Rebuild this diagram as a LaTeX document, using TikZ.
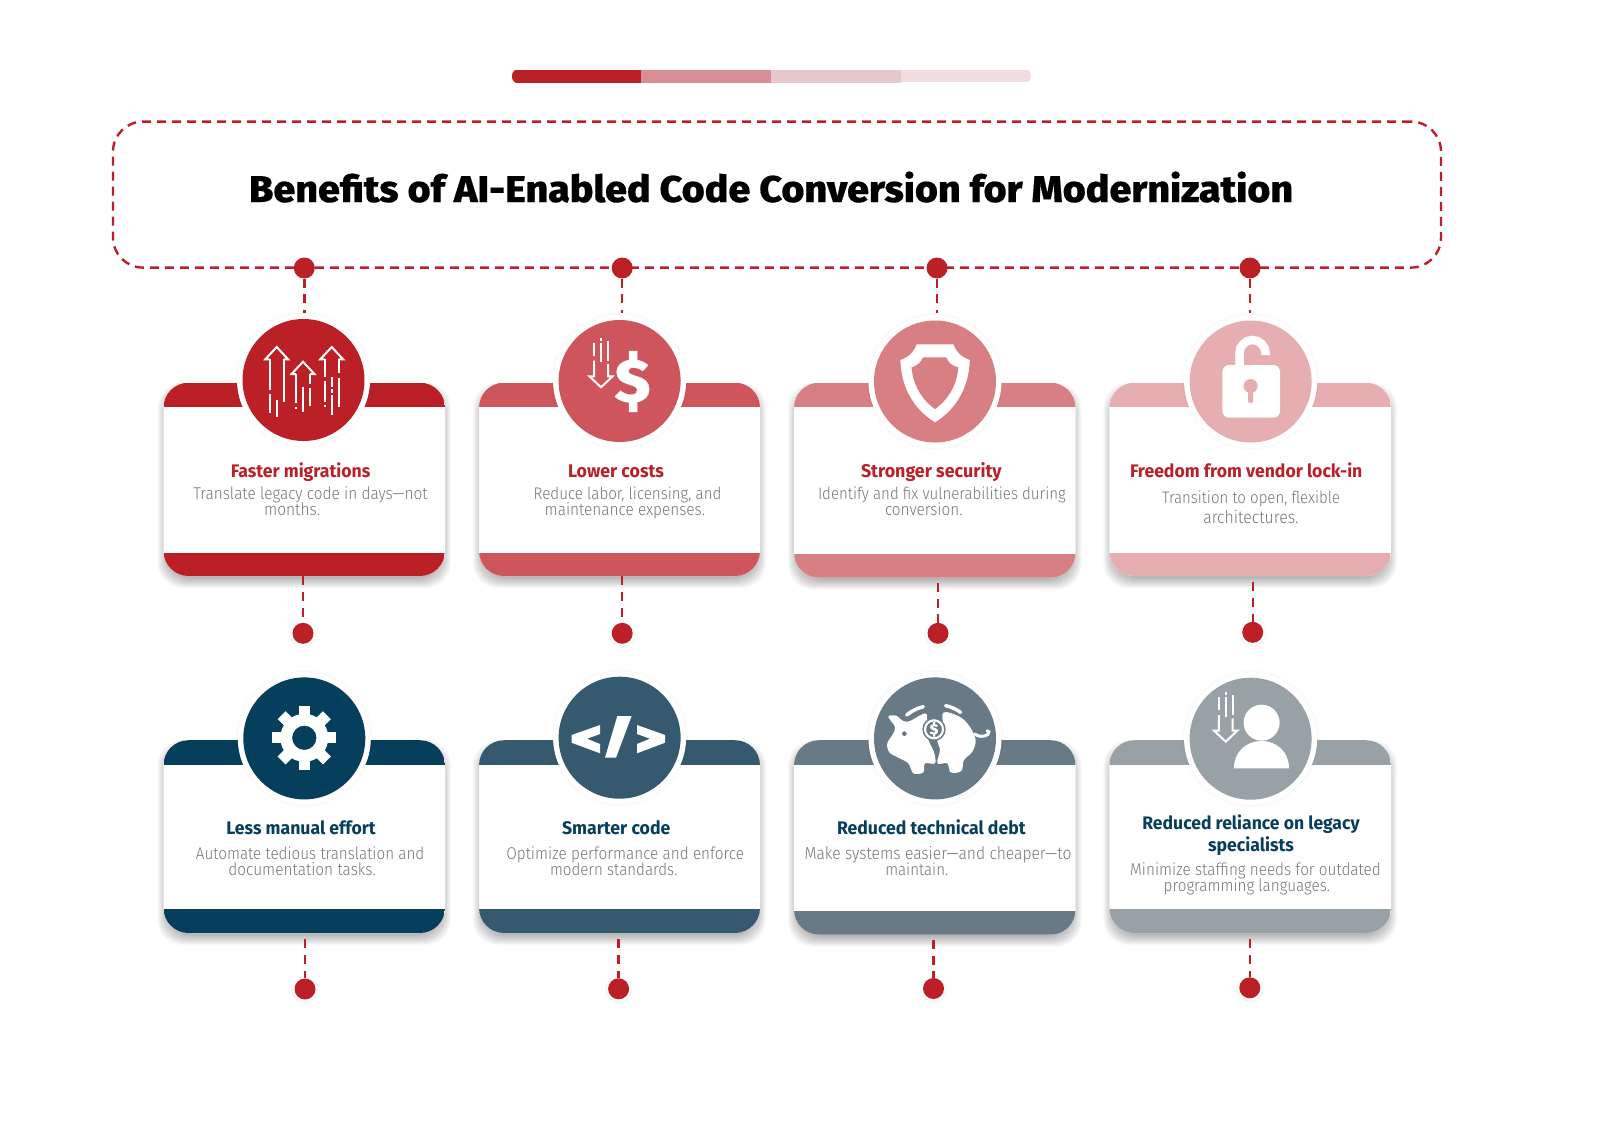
\documentclass[tikz,border=0pt]{standalone}
\usepackage{fontspec}
\usepackage{graphicx}
\setmainfont{Fira Sans}
\newfontfamily\titlef[FakeStretch=1.06,FakeBold=0.4]{Fira Sans ExtraBold}
\newfontfamily\headf[FakeStretch=0.97]{Fira Sans Bold}
\newfontfamily\bodyf[FakeStretch=0.9]{Fira Sans Light}
\definecolor{cA}{HTML}{BB2027}
\definecolor{cB}{HTML}{CE555B}
\definecolor{cC}{HTML}{D87F83}
\definecolor{cD}{HTML}{E6AEB0}
\definecolor{cE}{HTML}{063F5C}
\definecolor{cF}{HTML}{355A6F}
\definecolor{cG}{HTML}{687A85}
\definecolor{cH}{HTML}{98A1A6}
\definecolor{barB}{HTML}{D98E96}
\definecolor{barC}{HTML}{E7C8CC}
\definecolor{barD}{HTML}{F3DCE0}
\definecolor{bodygray}{HTML}{777777}
\def\px{0.75pt}
\tikzset{
  dotn/.style={circle,fill=cA,inner sep=0pt,minimum size=21*\px},
  conn/.style={draw=cA,line width=2.4*\px,dash pattern=on 6.75pt off 5pt},
  cardnode/.style={fill=white,inner sep=0pt,rounded corners=18.75pt},
  ringnode/.style={circle,fill=white,inner sep=0pt,minimum size=133*\px},
  discnode/.style={circle,inner sep=0pt,minimum size=122*\px},
  ico/.style={draw=white,line width=2*\px},
  txtn/.style={anchor=base,inner sep=0pt,outer sep=0pt},
}
% name, x1, x2, y1, y2, band end, band start, colour
\newcommand\cardbox[8]{%
  \foreach \s in {-5,-4,...,6}{%
    \fill[black,opacity=.027,rounded corners=18.75pt] ({#2-\s},{#4+6-\s}) rectangle ({#3+\s},{#5+6+\s});}
  \node[cardnode,minimum width={(#3-#2)*\px},minimum height={(#5-#4)*\px}] (#1) at ({(#2+#3)/2},{(#4+#5)/2}) {};
  \begin{scope}
    \clip[rounded corners=18.75pt] (#2,#4) rectangle (#3,#5);
    \fill[#8] (#2,#4) rectangle (#3,#6);
    \fill[#8] (#2,#7) rectangle (#3,#5);
  \end{scope}}
% name, cx, cy, colour
\newcommand\badge[4]{%
  \foreach \s in {0,1,2}{\fill[black,opacity=.012] (#2,#3) circle[radius={66.5+\s}];}
  \node[ringnode] (#1r) at (#2,#3) {};
  \node[discnode,fill=#4] (#1) at (#2,#3) {};}
% name, x, y: lower dot with soft halo
\newcommand\lowdot[3]{%
  \fill[black,opacity=.04] (#2,{#3+1}) circle[radius=13.5];
  \fill[white] (#2,#3) circle[radius=12.5];
  \node[dotn] (#1) at (#2,#3) {};}
% name, x1, x2, baseline, font+colour, text
\newcommand\txt[6]{%
  \pgfmathsetlengthmacro\tw{(#3-#2)*\px}%
  \node[txtn] (#1) at ({(#2+#3)/2},#4) {\resizebox{\tw}{!}{#5 #6}};}
\newcommand\headr[5]{\txt{#1}{#2}{#3}{#4}{\headf\fontsize{14}{14}\selectfont\color{cA}}{#5}}
\newcommand\headb[5]{\txt{#1}{#2}{#3}{#4}{\headf\fontsize{14}{14}\selectfont\color{cE}}{#5}}
\newcommand\bodyt[5]{\txt{#1}{#2}{#3}{#4}{\bodyf\fontsize{12}{12}\selectfont\color{bodygray}}{#5}}
% down arrow, tip at #1,#2
\newcommand\downarr[2]{%
  \begin{scope}[shift={(#1,#2)}]
    \draw[ico,line join=miter] (-6.9,-27.7) -- (-6.9,-12) -- (-11.6,-12) -- (0,-1) -- (11.6,-12) -- (7,-12) -- (7,-24.4);
    \draw[ico] (-6.9,-45.4) -- (-6.9,-32.7);
    \draw[ico] (0,-50.4) -- (0,-47.7) (0,-45.4) -- (0,-26);
    \draw[ico] (7,-47.7) -- (7,-27.7);
  \end{scope}}
% up arrow head outline, tip x,y
\newcommand\uparr[2]{%
  \draw[ico,line join=miter] ({#1-7},{#2+13.3}) -- ({#1-11.4},{#2+13.3}) -- (#1,{#2+1}) -- ({#1+11.4},{#2+13.3}) -- ({#1+6.8},{#2+13.3});}
\begin{document}
\begin{tikzpicture}[x=0.75pt,y=-0.75pt]
\path[use as bounding box,fill=white] (0,0) rectangle (1605,1142);
% progress bar
\begin{scope}
  \clip[rounded corners=5pt] (512,69) rectangle (1031,83.5);
  \fill[cA] (512,69.5) rectangle (641,82.7);
  \fill[barB] (641,70) rectangle (771,83.3);
  \fill[barC] (771,70) rectangle (901,83.3);
  \fill[barD] (901,69.5) rectangle (1031,82.3);
\end{scope}
% header
\node[draw=cA,line width=2.4*\px,dash pattern=on 6.75pt off 4.5pt,rounded corners=22.5pt,inner sep=0pt,
      minimum width=1328*\px,minimum height=146*\px] (hdr) at (777,194.6) {};
\txt{ttl}{249}{1293}{202}{\titlef\fontsize{30}{30}\selectfont\color{black}}{Benefits of AI-Enabled Code Conversion for Modernization}
% top dots
\node[dotn] (t1) at (304.3,268) {};
\node[dotn] (t2) at (622.2,268) {};
\node[dotn] (t3) at (937,268) {};
\node[dotn] (t4) at (1250,268) {};
% cards
\cardbox{c1}{163.5}{445}{382.7}{576}{407.2}{552.5}{cA}
\cardbox{c2}{479}{760}{382.7}{576}{407.2}{552.5}{cB}
\cardbox{c3}{794}{1075.5}{382.7}{577.7}{407.2}{554}{cC}
\cardbox{c4}{1109.4}{1391}{382.7}{576}{407.2}{552.5}{cD}
\cardbox{c5}{163.5}{445}{740.2}{933}{764.7}{909.3}{cE}
\cardbox{c6}{479}{760}{740.2}{933}{764.7}{909.3}{cF}
\cardbox{c7}{794}{1075.5}{740.2}{934.7}{764.7}{911}{cG}
\cardbox{c8}{1109.4}{1391}{740.2}{933}{764.7}{909.3}{cH}
% lower dots
\lowdot{b1}{303}{633.3}
\lowdot{b2}{622.2}{633.3}
\lowdot{b3}{938}{633.3}
\lowdot{b4}{1252.7}{632.3}
\lowdot{b5}{305}{989}
\lowdot{b6}{618.6}{988.8}
\lowdot{b7}{933.5}{988.5}
\lowdot{b8}{1249.8}{987.8}
% connectors
\coordinate (a1) at (304.3,313);
\coordinate (a2) at (622.2,313);
\coordinate (a3) at (937,313);
\coordinate (a4) at (1250,313);
\foreach \n in {1,2,3,4}{\draw[conn] (t\n.south) -- (a\n);}
\draw[conn] (c1.south -| b1) -- (b1.north);
\draw[conn] (c2.south -| b2) -- (b2.north);
\draw[conn,shorten <=5*\px] (c3.south -| b3) -- (b3.north);
\draw[conn,shorten <=6*\px] (c4.south -| b4) -- (b4.north);
\draw[conn,shorten <=6*\px] (c5.south -| b5) -- (b5.north);
\draw[conn,shorten <=6*\px] (c6.south -| b6) -- (b6.north);
\draw[conn,shorten <=5*\px] (c7.south -| b7) -- (b7.north);
\draw[conn,shorten <=6*\px] (c8.south -| b8) -- (b8.north);
% badges
\badge{d1}{303.5}{380}{cA}
\badge{d2}{619.6}{381}{cB}
\badge{d3}{935}{381.5}{cC}
\badge{d4}{1250.6}{381.5}{cD}
\badge{d5}{304.3}{738.4}{cE}
\badge{d6}{619.6}{737.7}{cF}
\badge{d7}{935}{738.4}{cG}
\badge{d8}{1250.6}{738.7}{cH}
% texts
\headr{h1}{230.8}{370.4}{477.5}{Faster migrations}
\bodyt{p1a}{193.3}{427.6}{499}{Translate legacy code in days—not}
\bodyt{p1b}{264}{320}{515}{months.}
\headr{h2}{568}{664}{477.5}{Lower costs}
\bodyt{p2a}{533.7}{721.4}{499}{Reduce labor, licensing, and}
\bodyt{p2b}{544.7}{705}{515}{maintenance expenses.}
\headr{h3}{861}{1001.6}{477.5}{Stronger security}
\bodyt{p3a}{818}{1065.7}{499}{Identify and fix vulnerabilities during}
\bodyt{p3b}{885}{962.4}{515}{conversion.}
\headr{h4}{1130}{1362.4}{477.5}{Freedom from vendor lock-in}
\bodyt{p4a}{1162}{1340}{503}{Transition to open, flexible}
\bodyt{p4b}{1203.3}{1298.4}{523}{architectures.}
\headb{h5}{226.3}{375.7}{834}{Less manual effort}
\bodyt{p5a}{196}{424.3}{859}{Automate tedious translation and}
\bodyt{p5b}{228.4}{375.7}{875}{documentation tasks.}
\headb{h6}{562}{670.4}{834}{Smarter code}
\bodyt{p6a}{506.3}{744}{859}{Optimize performance and enforce}
\bodyt{p6b}{550}{677.3}{875}{modern standards.}
\headb{h7}{837}{1025.7}{834}{Reduced technical debt}
\bodyt{p7a}{804.5}{1071.4}{859}{Make systems easier—and cheaper—to}
\bodyt{p7b}{885.3}{948.2}{875}{maintain.}
\headb{h8a}{1142.4}{1359.6}{829}{Reduced reliance on legacy}
\headb{h8b}{1208}{1294}{851}{specialists}
\bodyt{p8a}{1130.2}{1380.8}{875}{Minimize staffing needs for outdated}
\bodyt{p8b}{1163.7}{1330}{891}{programming languages.}
% icon 1: rising arrows
\uparr{276.7}{346}
\uparr{303}{360.7}
\uparr{331.7}{346}
\draw[ico] (269.7,359) -- (269.7,390) (269.7,394) -- (269.7,413)
           (283.5,359) -- (283.5,401.7)
           (276.5,400) -- (276.5,416.7)
           (296,374) -- (296,403.3) (296,406.7) -- (296,409)
           (309.5,374) -- (309.5,384) (309.5,388) -- (309.5,406)
           (303,386.7) -- (303,411.7)
           (324.7,359) -- (324.7,376.7) (324.7,380.7) -- (324.7,401.7) (324.7,405) -- (324.7,407)
           (338.5,359) -- (338.5,373.3) (338.5,378.3) -- (338.5,406.7)
           (331.7,376.7) -- (331.7,387.3) (331.7,389) -- (331.7,393) (331.7,395) -- (331.7,415);
% icon 2: falling cost
\downarr{601}{388.3}
\node[inner sep=0pt,text=white] (dollar) at (632.5,381.5) {\resizebox{36\dimexpr\px\relax}{51\dimexpr\px\relax}{\titlef\fontsize{30}{30}\selectfont\$}};
% icon 3: shield
\fill[white,even odd rule]
  (916.7,344.3) -- (953.5,344.3) .. controls (956,352) and (961,357) .. (969.8,360)
  .. controls (969,385) and (958,408) .. (935,422.3)
  .. controls (912,408) and (901,385) .. (900.4,360)
  .. controls (909,357) and (914,352) .. (916.7,344.3) -- cycle
  (922.9,357.3) -- (946.5,357.3) .. controls (948,362) and (952,366) .. (958.4,367.3)
  .. controls (957,385) and (949,399) .. (935,409.3)
  .. controls (921,399) and (913,385) .. (911.4,367.3)
  .. controls (917,366) and (921,362) .. (922.9,357.3) -- cycle;
% icon 4: open padlock
\fill[white,rounded corners=5pt] (1222.4,365) rectangle (1280,417.7);
\draw[white,line width=8.5*\px] (1239.5,366) -- (1239.5,353) arc[start angle=180,end angle=360,radius=13] -- (1265.5,355);
\fill[cD] (1250.6,386) circle[radius=7];
\fill[cD,rounded corners=1.5pt] (1248,386) rectangle (1253.2,403);
% icon 5: gear
\begin{scope}[shift={(304.3,737.8)}]
  \foreach \a in {0,45,...,315}{\fill[white,rotate=\a] (-5.6,-32) rectangle (5.6,-18);}
  \fill[white,even odd rule] (0,0) circle[radius=24] (0,0) circle[radius=12.2];
\end{scope}
% icon 6: code
\fill[white] (571.6,735) -- (600,725) -- (600,734) -- (587,738.7) -- (600,744) -- (600,753.3) -- (571.6,742.7) -- cycle;
\fill[white] (617.3,716) -- (631.6,716) -- (616,757.7) -- (605,757.7) -- cycle;
\fill[white] (637,725) -- (665,735) -- (665,742.7) -- (637,753.3) -- (637,744) -- (650,738.7) -- (637,734) -- cycle;
% icon 7: piggy bank
\begin{scope}[shift={(860,665)},x=0.25pt,y=-0.25pt]
  \fill[white] plot[smooth cycle,tension=.55] coordinates {(85,155) (108,152) (130,168) (150,168) (198,146) (200,200) (205,225) (222,262) (225,295) (195,295) (190,322) (160,325) (145,295) (115,278) (88,262) (82,235) (100,205) (105,185)};
  \fill[white] plot[smooth cycle,tension=.55] coordinates {(250,143) (300,156) (330,186) (347,225) (337,260) (312,285) (304,318) (272,322) (262,295) (232,295) (240,255) (232,225) (250,200)};
  \fill[cG] (133,206) circle[radius=7];
  \fill[cG] (222,193) circle[radius=35];
  \draw[cG,line width=2*\px] (140,158) .. controls (155,145) and (172,136) .. (198,132);
  \draw[cG,line width=2*\px] (250,130) .. controls (272,133) and (290,140) .. (308,155);
  \draw[white,line width=3.5*\px,line cap=round] (140,150) .. controls (155,138) and (170,130) .. (190,125);
  \draw[white,line width=3.5*\px,line cap=round] (257,122) .. controls (272,125) and (288,132) .. (302,142);
  \draw[white,line width=3*\px,line cap=round] (345,207) .. controls (352,214) and (370,218) .. (384,208) .. controls (389,203) and (387,196) .. (381,197);
  \draw[white,line width=2.2*\px] (222,193) circle[radius=27];
  \node[inner sep=0pt,text=white] (coin) at (222,193) {\titlef\fontsize{11}{11}\selectfont\$};
\end{scope}
% icon 8: person
\downarr{1225.7}{742.7}
\fill[white] (1261.6,722.7) circle[radius=18];
\fill[white] (1233.9,768.3) .. controls (1233.9,752) and (1246,741) .. (1261.5,741) .. controls (1277,741) and (1289,752) .. (1289,768.3) -- cycle;
\end{tikzpicture}
\end{document}
